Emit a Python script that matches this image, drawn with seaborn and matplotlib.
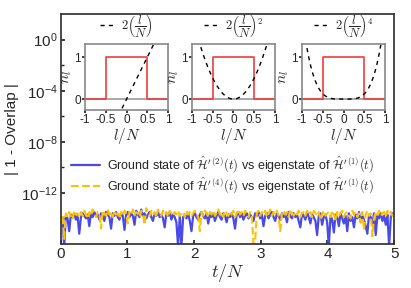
import numpy as np
import pandas as pd
import matplotlib
matplotlib.use('Agg')
import matplotlib.pyplot as plt
from matplotlib.ticker import NullFormatter, FixedLocator
import seaborn as sns

# log10 of |1 - overlap|, 200 samples over t/N in [0, 5]
blue_exp = [
    -14.2, -13.9, -16.2, -13.8, -14.0, -15.0, -13.7, -13.9, -13.6, -14.1,
    -13.8, -15.2, -13.9, -13.6, -13.8, -14.0, -13.7, -14.6, -13.6, -13.9,
    -13.5, -13.8, -13.7, -14.1, -13.6, -13.8, -14.2, -13.5, -13.7, -13.9,
    -14.8, -13.6, -13.8, -13.5, -13.9, -14.1, -13.6, -13.8, -14.9, -13.7,
    -13.5, -13.9, -13.6, -13.8, -14.5, -13.4, -13.7, -13.9, -13.3, -13.8,
    -13.6, -14.0, -13.7, -13.5, -13.9, -14.2, -13.6, -13.8, -13.5, -13.9,
    -13.7, -14.0, -14.7, -13.6, -13.8, -13.5, -14.1, -13.7, -13.9, -14.3,
    -16.2, -13.8, -16.2, -13.9, -13.7, -14.0, -13.6, -14.2, -15.0, -13.8,
    -13.6, -13.9, -14.1, -13.7, -13.5, -13.8, -14.0, -13.6, -14.4, -13.7,
    -13.9, -13.6, -14.2, -13.8, -13.5, -13.9, -14.1, -13.6, -13.8, -14.3,
    -13.7, -13.9, -13.6, -14.0, -14.8, -13.7, -13.5, -13.9, -13.6, -14.1,
    -13.8, -13.6, -14.0, -13.7, -13.9, -14.2, -13.6, -13.8, -13.5, -14.0,
    -13.7, -14.6, -13.8, -13.6, -14.0, -13.7, -13.5, -13.9, -14.2, -13.6,
    -13.8, -14.1, -13.6, -13.9, -13.7, -14.3, -13.5, -13.8, -14.0, -13.6,
    -13.9, -13.7, -14.2, -14.7, -13.6, -13.8, -14.1, -13.5, -13.9, -14.4,
    -13.7, -13.9, -14.2, -15.3, -13.8, -13.6, -14.5, -13.9, -13.7, -14.3,
    -16.2, -13.8, -14.1, -15.1, -13.7, -13.9, -14.6, -13.6, -14.0, -14.4,
    -13.8, -15.0, -13.6, -14.2, -13.9, -14.7, -13.7, -14.0, -13.5, -14.3,
    -13.8, -14.1, -14.6, -15.2, -13.7, -13.9, -14.4, -13.6, -15.3, -13.8,
    -14.0, -13.6, -14.2, -13.8, -14.5, -13.7, -16.2, -13.9, -13.6, -13.8,
]
yellow_exp = [
    -14.4, -13.7, -15.6, -13.6, -13.9, -13.5, -13.8, -14.1, -13.4, -13.7,
    -13.6, -13.9, -13.5, -13.8, -13.4, -13.7, -14.0, -13.5, -13.8, -13.3,
    -13.6, -13.9, -13.5, -13.7, -14.8, -13.4, -13.6, -13.8, -13.3, -13.7,
    -13.5, -13.9, -13.4, -13.7, -13.6, -14.0, -13.5, -13.8, -13.4, -13.6,
    -14.4, -13.5, -13.7, -13.3, -13.8, -13.5, -13.6, -13.9, -13.4, -13.7,
    -14.5, -13.2, -13.6, -13.8, -13.4, -13.7, -13.5, -13.9, -13.3, -13.6,
    -13.8, -13.4, -13.7, -13.5, -13.9, -13.4, -13.6, -13.8, -13.5, -13.7,
    -13.4, -13.8, -13.6, -13.5, -13.9, -13.4, -13.7, -13.5, -13.8, -13.6,
    -13.4, -13.7, -13.9, -15.0, -13.5, -13.8, -13.4, -13.6, -13.9, -13.5,
    -13.7, -13.4, -13.8, -13.6, -13.3, -13.7, -13.5, -13.9, -13.4, -13.6,
    -13.8, -13.5, -13.7, -13.4, -13.9, -13.6, -13.3, -13.7, -13.5, -13.8,
    -13.4, -13.6, -13.9, -13.5, -13.7, -16.0, -15.8, -13.6, -13.4, -13.8,
    -13.5, -13.7, -13.4, -13.9, -13.6, -13.3, -13.8, -13.5, -13.7, -13.4,
    -13.8, -15.0, -13.6, -13.4, -13.7, -13.5, -13.9, -13.3, -13.6, -13.8,
    -13.5, -13.7, -13.4, -13.9, -13.6, -13.5, -13.8, -13.4, -13.7, -13.5,
    -13.9, -13.4, -13.6, -13.8, -13.5, -14.1, -13.7, -13.4, -13.8, -13.6,
    -13.5, -13.9, -13.4, -13.7, -14.2, -13.5, -13.8, -13.6, -13.4, -13.9,
    -13.6, -13.5, -13.8, -14.0, -13.4, -13.7, -13.5, -13.9, -13.6, -14.3,
    -13.5, -14.9, -13.7, -13.4, -13.8, -13.6, -15.4, -14.0, -13.5, -13.7,
    -13.4, -13.8, -13.6, -13.5, -13.9, -13.4, -13.7, -13.5, -13.8, -13.6,
]
t_max = 5
inset_powers = [1, 2, 4]
inset_labels = [r'$2\left(\dfrac{l}{N}\right)$',
                r'$2\left(\dfrac{l}{N}\right)^2$',
                r'$2\left(\dfrac{l}{N}\right)^4$']
ytick_exp = [0, -4, -8, -12]
yminor_exp = [-2, -6, -10, -14]
label_blue = r"Ground state of $\hat{\mathcal{H}}'^{(2)}(t)$ vs eigenstate of $\hat{\mathcal{H}}'^{(1)}(t)$"
label_yellow = r"Ground state of $\hat{\mathcal{H}}'^{(4)}(t)$ vs eigenstate of $\hat{\mathcal{H}}'^{(1)}(t)$"

sns.set_theme(style='ticks')
plt.rcParams['font.family'] = ['Liberation Sans', 'DejaVu Sans']
plt.rcParams['mathtext.fontset'] = 'cm'

t = np.linspace(0, t_max, len(blue_exp))
df = pd.DataFrame({'t': t,
                   'blue': 10.0 ** np.array(blue_exp),
                   'yellow': 10.0 ** np.array(yellow_exp)})

fig = plt.figure(figsize=(4.11, 2.88), dpi=100)
ax = fig.add_axes([0.148, 0.153, 0.811, 0.798])
sns.lineplot(data=df, x='t', y='blue', ax=ax, color='#4a4ae6', lw=1.6, label=label_blue)
sns.lineplot(data=df, x='t', y='yellow', ax=ax, color='#ffc000', lw=1.5, ls='--', label=label_yellow)
ax.set_yscale('log')
ax.set_ylim(1e-16, 1e2)
ax.set_xlim(0, t_max)
ax.set_xticks(range(0, t_max + 1))
ax.yaxis.set_major_locator(FixedLocator([10.0 ** e for e in ytick_exp]))
ax.set_yticklabels([r'$\mathregular{10^{%d}}$' % e for e in ytick_exp])
ax.yaxis.set_minor_locator(FixedLocator([10.0 ** e for e in yminor_exp]))
ax.yaxis.set_minor_formatter(NullFormatter())
ax.tick_params(axis='both', which='major', direction='in', length=3, labelsize=11, pad=2)
ax.tick_params(axis='y', which='minor', direction='in', length=2)
ax.set_xlabel(r'$t/N$', fontsize=13, labelpad=1)
ax.set_ylabel('| 1 - Overlap |', fontsize=11, labelpad=2)
for s in ax.spines.values():
    s.set_color('#333333')
ax.legend(loc='center left', bbox_to_anchor=(0.0, 0.30), frameon=False,
          fontsize=9, handlelength=2.3, borderaxespad=0.4, labelspacing=0.05,
          handletextpad=0.6)

# insets: square occupation with dashed power-law curves
x_in = np.linspace(-1, 1, 401)
lefts = [0.207, 0.467, 0.735]
for left, p, lab in zip(lefts, inset_powers, inset_labels):
    ia = fig.add_axes([left, 0.618, 0.202, 0.229])
    ia.axhline(0, color='#999999', lw=1.2)
    sq = pd.DataFrame({'l': [-1, -0.5, -0.5, 0.5, 0.5, 1],
                       'n': [0, 0, 1, 1, 0, 0]})
    ia.plot(sq['l'], sq['n'], color='#f03c3c', lw=1.2)
    sns.lineplot(x=x_in, y=2 * x_in ** p, ax=ia, color='black', ls=(0, (3, 3)),
                 lw=1.0, label=lab)
    ia.set_xlim(-1, 1)
    ia.set_ylim(-0.26, 1.31)
    ia.set_xticks([-1, -0.5, 0, 0.5, 1])
    ia.set_xticklabels(['-1', '-0.5', '0', '0.5', '1'])
    ia.set_yticks([0, 1])
    ia.tick_params(labelsize=8.5, length=2, pad=1)
    ia.set_xlabel(r'$l/N$', fontsize=11, labelpad=0)
    ia.set_ylabel(r'$n_l$', fontsize=11, labelpad=0)
    for s in ia.spines.values():
        s.set_color('#888888')
        s.set_linewidth(1.2)
    ia.legend(loc='lower center', bbox_to_anchor=(0.5, 0.98), frameon=False,
              fontsize=9, handlelength=1.2, borderaxespad=0.1, handletextpad=0.5)

fig.savefig('out.png', dpi=100)
